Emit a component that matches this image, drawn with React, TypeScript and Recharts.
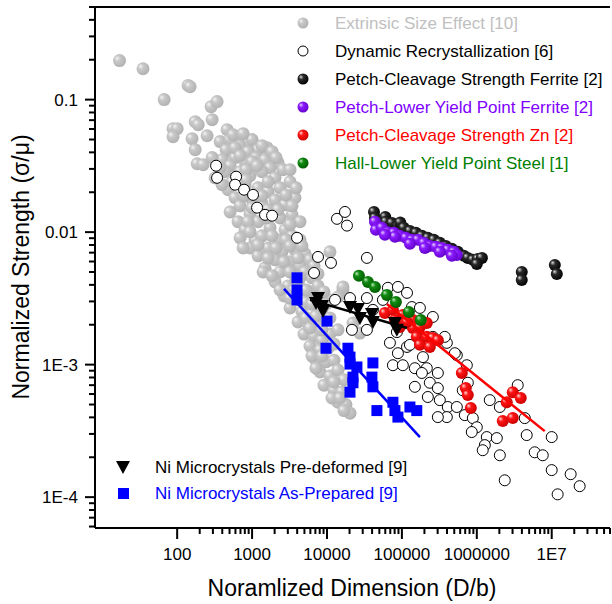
import React from 'react'
import { ScatterChart, Scatter, XAxis, YAxis } from 'recharts'

// [D/b, sigma/mu] pairs
const extrinsic = [
  [17, 0.197], [35, 0.171], [67, 0.1], [140, 0.128], [149, 0.125], [284, 0.0885], [341, 0.0966],
  [293, 0.0706], [174, 0.0682], [191, 0.0647], [88, 0.0604], [100, 0.0604], [88, 0.0525],
  [158, 0.0507], [251, 0.0534], [174, 0.0419], [464, 0.0593], [631, 0.0525], [185, 0.0328],
  [222, 0.0323], [857, 0.0457], [1585, 0.0434], [2223, 0.0334], [541, 0.0398],
  [374, 0.0482], [509, 0.0499], [692, 0.0449], [1000, 0.0499], [1202, 0.0419], [450, 0.0419], [885, 0.0405],
  [398, 0.0352], [593, 0.0365], [807, 0.034], [1130, 0.0365], [1490, 0.0352], [293, 0.0365], [509, 0.0317], [1738, 0.0306],
  [437, 0.0286], [692, 0.0286], [940, 0.0267], [1359, 0.0286], [2028, 0.0257], [2588, 0.0296], [321, 0.0257], [541, 0.024],
  [479, 0.0209], [807, 0.0224], [1202, 0.0216], [1633, 0.0202], [2361, 0.0216], [3213, 0.024], [593, 0.0182], [1000, 0.0175],
  [692, 0.0158], [1359, 0.0164], [2028, 0.0175], [2754, 0.0161], [3741, 0.0182], [509, 0.0142], [940, 0.0137], [1633, 0.0148],
  [650, 0.012], [1202, 0.012], [2361, 0.0128], [3415, 0.0135], [4365, 0.012], [807, 0.0104], [1738, 0.0108], [2754, 0.0104],
  [692, 0.00906], [1096, 0.00875], [1359, 0.00938], [2223, 0.00875], [3415, 0.00938], [4365, 0.00875], [940, 0.0076], [1633, 0.0076],
  [2512, 0.0071], [3741, 0.00735], [5093, 0.00686], [1202, 0.00662], [2028, 0.00618], [3213, 0.00597], [4365, 0.00556], [5929, 0.00618],
  [1490, 0.00537], [2361, 0.00501], [3741, 0.00468], [5093, 0.00501], [6310, 0.00452], [2028, 0.00421], [3020, 0.00393], [4365, 0.0038],
  [5929, 0.00354], [7586, 0.00393], [2673, 0.0033], [3863, 0.00308], [5248, 0.00297], [7586, 0.00308], [3213, 0.00268], [4642, 0.0025],
  [6310, 0.00241], [8570, 0.00259], [4102, 0.0021], [5585, 0.00203], [7586, 0.00196], [9705, 0.00217], [12020, 0.00308], [16330, 0.00366],
  [4933, 0.0017], [6714, 0.00164], [8570, 0.00153], [10960, 0.0017], [5929, 0.00138], [8072, 0.00129], [10300, 0.00133], [14030, 0.00183],
  [7129, 0.00108], [9705, 0.00105], [12390, 0.00108], [8072, 0.00088], [10960, 0.00082], [14030, 0.00091], [16870, 0.00077], [9120, 0.0007],
  [12390, 0.00064], [15850, 0.00062], [14030, 0.00052], [17910, 0.0005], [20280, 0.00043], [16870, 0.00045], [11660, 0.00056],
  [759, 0.0076], [1403, 0.00501], [10960, 0.0071], [16330, 0.00386], [14030, 0.00324], [27540, 0.00173], [22230, 0.00206],
  [558, 0.0543], [759, 0.0553], [593, 0.0434], [1359, 0.0449], [1849, 0.0405], [692, 0.0377], [1000, 0.034], [2089, 0.0365],
  [374, 0.0306], [832, 0.0296], [1166, 0.0317], [3213, 0.0296], [398, 0.0228], [832, 0.0248], [1633, 0.024], [3863, 0.0216],
  [1359, 0.0188], [2838, 0.0191], [782, 0.0188], [1000, 0.0153], [2223, 0.0148], [3415, 0.0158], [885, 0.012], [1538, 0.0128],
  [3213, 0.0114], [940, 0.01005], [1849, 0.00938], [2838, 0.00875], [1202, 0.00802], [2089, 0.0076], [3213, 0.00787], [4642, 0.00787],
  [1633, 0.00639], [2673, 0.00597], [4102, 0.00639], [6714, 0.00556], [1849, 0.00468], [3213, 0.00501], [4365, 0.00452], [7586, 0.00484],
  [2361, 0.00366], [3631, 0.00366], [5248, 0.00366], [9120, 0.00354], [3213, 0.00318], [6310, 0.00287], [9705, 0.00287],
  [5248, 0.00225], [7129, 0.00233], [10960, 0.00225], [5929, 0.00189], [8570, 0.00183], [12390, 0.00143],
  [6310, 0.00116], [8570, 0.00116], [7129, 0.00094], [12390, 0.00074], [14900, 0.00056],
]

const recrystallization = [
  [331, 0.0317], [341, 0.0257], [612, 0.0262], [593, 0.0228], [782, 0.0209], [1030, 0.0191], [1166, 0.0153],
  [1490, 0.0135], [1849, 0.0133], [3981, 0.00906],
  [13590, 0.0126], [17380, 0.0142], [18480, 0.0112], [7586, 0.0065], [11300, 0.00586], [6714, 0.00492], [34120, 0.00639],
  [12790, 0.00308], [20280, 0.00318], [34120, 0.00318], [41020, 0.00259], [55800, 0.00308], [65000, 0.0038],
  [88500, 0.00386], [117000, 0.00348], [136000, 0.00272], [174000, 0.00268], [259000, 0.00229],
  [21540, 0.00183], [34120, 0.00183], [69200, 0.00146], [88500, 0.00122], [117000, 0.00136], [75900, 0.00099],
  [103000, 0.00099], [149000, 0.00094], [191000, 0.00114], [215000, 0.00094], [236000, 0.00073], [185000, 0.000865],
  [302000, 0.000865], [302000, 0.000665], [149000, 0.00068], [222000, 0.00057], [321000, 0.00054], [410000, 0.000479],
  [398000, 0.000402], [302000, 0.000402], [541000, 0.000479], [541000, 0.00118], [736000, 0.00099], [650000, 0.00064],
  [759000, 0.00073], [692000, 0.000416], [885000, 0.000395], [1000000, 0.000337], [857000, 0.00031], [1360000, 0.000284],
  [1850000, 0.000279], [1280000, 0.000247], [1200000, 0.000226], [2030000, 0.000207], [1490000, 0.00054], [2030000, 0.000479],
  [3520000, 0.0007], [4370000, 0.000395], [4640000, 0.000294], [5930000, 0.000218], [7590000, 0.000207], [10000000, 0.000284],
  [10000000, 0.00016], [17900000, 0.000149], [23600000, 0.000121], [12000000, 0.000105], [2360000, 0.000134],
  [398000, 0.00146], [509000, 0.00122], [259000, 0.00162], [374000, 0.00162], [85700, 0.00176], [163000, 0.00183], [128000, 0.00141],
]

const cleavageFerrite = [
  [42400, 0.0142], [43700, 0.0128], [50900, 0.012], [60000, 0.013], [61200, 0.012], [73600, 0.0117], [88500, 0.0112],
  [95000, 0.0118], [106000, 0.0108], [128000, 0.0102], [154000, 0.00988], [185000, 0.00938], [222000, 0.00906],
  [267000, 0.00875], [321000, 0.0083], [386000, 0.00787], [464000, 0.00748], [558000, 0.0071], [671000, 0.00662],
  [759000, 0.00639], [885000, 0.00618], [1030000, 0.00628], [1170000, 0.00639], [1000000, 0.00575],
  [3980000, 0.00501], [3980000, 0.00436], [11000000, 0.00566], [11700000, 0.00484],
]

const yieldFerrite = [
  [43700, 0.012], [45000, 0.0104], [54100, 0.0108], [65000, 0.01], [78200, 0.00988], [94000, 0.00938],
  [113000, 0.00906], [136000, 0.00875], [163000, 0.00875], [196000, 0.0083], [236000, 0.00787], [284000, 0.00774],
  [341000, 0.0076], [410000, 0.00735], [493000, 0.0071], [541000, 0.00673], [464000, 0.00662], [321000, 0.0071],
  [203000, 0.0076], [128000, 0.00817], [80700, 0.00923], [59300, 0.00955],
]

const cleavageZn = [
  [59300, 0.00245], [75900, 0.00259], [103000, 0.00237], [140000, 0.00217], [94000, 0.00192], [140000, 0.00189],
  [174000, 0.00192], [215000, 0.00206], [158000, 0.00162], [215000, 0.00162], [259000, 0.00159], [302000, 0.00153],
  [174000, 0.00141], [236000, 0.00136], [117000, 0.0021], [80700, 0.00217], [631000, 0.000865], [713000, 0.000665],
  [759000, 0.000589], [832000, 0.00047], [3020000, 0.00062], [3860000, 0.00056], [2510000, 0.00052],
  [2220000, 0.000375], [3020000, 0.000395],
]

const hallSteel = [
  [26700, 0.00468], [35200, 0.00421], [43700, 0.00386], [63100, 0.00336], [83200, 0.00297], [124000, 0.0025], [179000, 0.00217],
]

const niPreDeformed = [
  [7586, 0.00318], [7129, 0.00292], [8570, 0.00277], [8850, 0.00254], [20280, 0.00272], [25900, 0.00263],
  [27540, 0.00225], [39800, 0.00241], [41020, 0.0021], [80700, 0.00206], [85700, 0.00183],
]

const niAsPrepared = [
  [3981, 0.00452], [3981, 0.00366], [3981, 0.00308], [10000, 0.00213], [9705, 0.00133], [19050, 0.00133],
  [20280, 0.00114], [20280, 0.00101], [25100, 0.00096], [41020, 0.00103], [39800, 0.000805], [41020, 0.00068],
  [22230, 0.000805], [22230, 0.00073], [20280, 0.00062], [46400, 0.00045], [75900, 0.00052], [80700, 0.00045],
  [88500, 0.000402], [128000, 0.000479], [158000, 0.00045],
]

// fitted lines (end points)
const fitAsPrepared = [[2670, 0.00373], [174000, 0.000284]]
const fitPreDeformed = [[5930, 0.00308], [117000, 0.00189]]
const fitZn = [[63000, 0.00287], [8070000, 0.000315]]

const xMajor = [100, 1000, 10000, 100000, 1000000, 10000000]
const xLabels = ['100', '1000', '10000', '100000', '1000000', '1E7']
const yMajor = [0.0001, 0.001, 0.01, 0.1]
const yLabels = ['1E-4', '1E-3', '0.01', '0.1']

const legendTop = [
  { name: 'Extrinsic Size Effect [10]', color: '#c0c0c0', marker: 'gGray' },
  { name: 'Dynamic Recrystallization [6]', color: '#000000', marker: 'open' },
  { name: 'Petch-Cleavage Strength Ferrite [2]', color: '#000000', marker: 'gBlack' },
  { name: 'Petch-Lower Yield Point Ferrite [2]', color: '#8000ff', marker: 'gPurple' },
  { name: 'Petch-Cleavage Strength Zn [2]', color: '#ff0000', marker: 'gRed' },
  { name: 'Hall-Lower Yield Point Steel [1]', color: '#008000', marker: 'gGreen' },
]

const X_DOMAIN = [8, 6e7]
const Y_DOMAIN = [5.85e-5, 0.5]

const xTicks: number[] = []
for (let d = 100; d <= 1e7; d *= 10) {
  for (let m = 1; m < 10; m++) {
    const v = Math.round(d * m)
    if (v <= X_DOMAIN[1]) xTicks.push(v)
  }
}
const yTicks: number[] = []
for (let e = -5; e <= -1; e++) {
  for (let m = 1; m < 10; m++) {
    const v = parseFloat((m * Math.pow(10, e)).toPrecision(3))
    if (v >= 6e-5 && v <= 0.5) yTicks.push(v)
  }
}

const pts = (arr: number[][]) => arr.map(([x, y]) => ({ x, y }))
const FONT = '"Liberation Sans", Arial, sans-serif'

const XTick = (props: any) => {
  const { x, y, payload } = props
  const i = xMajor.indexOf(payload.value)
  return (
    <g>
      <line x1={x} x2={x} y1={y} y2={y + (i >= 0 ? 11 : 6)} stroke="#000" strokeWidth={2} />
      {i >= 0 && (
        <text x={x} y={y + 32} textAnchor="middle" fontSize={17} fill="#000" fontFamily={FONT}>
          {xLabels[i]}
        </text>
      )}
    </g>
  )
}

const YTick = (props: any) => {
  const { x, y, payload } = props
  const i = yMajor.findIndex((v) => Math.abs(v - payload.value) < v * 1e-6)
  return (
    <g>
      <line x1={x} x2={x - (i >= 0 ? 10 : 6)} y1={y} y2={y} stroke="#000" strokeWidth={2} />
      {i >= 0 && (
        <text x={x - 17} y={y + 6} textAnchor="end" fontSize={17} fill="#000" fontFamily={FONT}>
          {yLabels[i]}
        </text>
      )}
    </g>
  )
}

const sphere = (id: string, r: number) => (p: any) => <circle cx={p.cx} cy={p.cy} r={r} fill={`url(#${id})`} />
const openCircle = (p: any) => <circle cx={p.cx} cy={p.cy} r={5.5} fill="#fff" stroke="#000" strokeWidth={1} />
const triangle = (p: any) => (
  <polygon points={`${p.cx - 7},${p.cy - 6} ${p.cx + 7},${p.cy - 6} ${p.cx},${p.cy + 7}`} fill="#000" />
)
const square = (p: any) => <rect x={p.cx - 5.5} y={p.cy - 5.5} width={11} height={11} fill="#0000ff" />
const noDot = () => <g />

const Grad = ({ id, c0, c1, c2 }: { id: string; c0: string; c1: string; c2: string }) => (
  <radialGradient id={id} cx="0.42" cy="0.42" r="0.62" fx="0.3" fy="0.3">
    <stop offset="0" stopColor={c0} />
    <stop offset="0.35" stopColor={c1} />
    <stop offset="1" stopColor={c2} />
  </radialGradient>
)

export default function App() {
  return (
    <div style={{ position: 'absolute', left: 0, top: 0, width: 612, height: 604, background: '#fff', fontFamily: FONT }}>
      <svg width={0} height={0} style={{ position: 'absolute' }}>
        <defs>
          <Grad id="gGray" c0="#f4f4f4" c1="#c8c8c8" c2="#b0b0b0" />
          <Grad id="gBlack" c0="#d8d8d8" c1="#2a2a2a" c2="#000000" />
          <Grad id="gPurple" c0="#e6ccff" c1="#8a1cff" c2="#6200c8" />
          <Grad id="gRed" c0="#ffd6d6" c1="#ff1414" c2="#c80000" />
          <Grad id="gGreen" c0="#b8e6b8" c1="#118a11" c2="#005a00" />
        </defs>
      </svg>
      <ScatterChart width={612} height={604} margin={{ top: 7, right: 2, bottom: 0, left: 0 }}>
        <XAxis
          type="number"
          dataKey="x"
          scale="log"
          domain={X_DOMAIN}
          allowDataOverflow
          ticks={xTicks}
          interval={0}
          tick={<XTick />}
          tickLine={false}
          tickSize={0}
          tickMargin={0}
          height={76}
          axisLine={{ stroke: '#000', strokeWidth: 2 }}
        />
        <YAxis
          type="number"
          dataKey="y"
          scale="log"
          domain={Y_DOMAIN}
          allowDataOverflow
          ticks={yTicks}
          interval={0}
          tick={<YTick />}
          tickLine={false}
          tickSize={0}
          tickMargin={0}
          width={95}
          axisLine={{ stroke: '#000', strokeWidth: 2 }}
        />
        <Scatter data={pts(extrinsic)} shape={sphere('gGray', 6.5)} isAnimationActive={false} />
        <Scatter data={pts(recrystallization)} shape={openCircle} isAnimationActive={false} />
        <Scatter data={pts(cleavageFerrite)} shape={sphere('gBlack', 6)} isAnimationActive={false} />
        <Scatter data={pts(yieldFerrite)} shape={sphere('gPurple', 6)} isAnimationActive={false} />
        <Scatter data={pts(cleavageZn)} shape={sphere('gRed', 6)} isAnimationActive={false} />
        <Scatter data={pts(hallSteel)} shape={sphere('gGreen', 6)} isAnimationActive={false} />
        <Scatter data={pts(niAsPrepared)} shape={square} isAnimationActive={false} />
        <Scatter data={pts(fitAsPrepared)} shape={noDot} line={{ stroke: '#0000ff', strokeWidth: 2.5 }} isAnimationActive={false} />
        <Scatter data={pts(niPreDeformed)} shape={triangle} isAnimationActive={false} />
        <Scatter data={pts(fitPreDeformed)} shape={noDot} line={{ stroke: '#000', strokeWidth: 2.5 }} isAnimationActive={false} />
        <Scatter data={pts(fitZn)} shape={noDot} line={{ stroke: '#ff0000', strokeWidth: 2.5 }} isAnimationActive={false} />
      </ScatterChart>
      <svg width={612} height={604} style={{ position: 'absolute', left: 0, top: 0, pointerEvents: 'none' }}>
        <line x1={94} x2={610} y1={7} y2={7} stroke="#000" strokeWidth={2} />
        {legendTop.map((l, i) => {
          const cy = 23 + i * 28
          return (
            <g key={l.name}>
              {l.marker === 'open' ? (
                <circle cx={303} cy={cy} r={5} fill="#fff" stroke="#000" strokeWidth={1} />
              ) : (
                <circle cx={303} cy={cy} r={5.5} fill={`url(#${l.marker})`} />
              )}
              <text x={335} y={cy + 6} fontSize={17} fill={l.color} fontFamily={FONT}>
                {l.name}
              </text>
            </g>
          )
        })}
        <polygon points="116,461 130,461 123,474" fill="#000" />
        <text x={155} y={473} fontSize={17} fill="#000" fontFamily={FONT}>Ni Microcrystals Pre-deformed [9]</text>
        <rect x={118} y={488} width={11} height={11} fill="#0000ff" />
        <text x={155} y={499} fontSize={17} fill="#0000ff" fontFamily={FONT}>Ni Microcrystals As-Prepared [9]</text>
        <text x={352} y={596} textAnchor="middle" fontSize={23} fill="#000" fontFamily={FONT}>
          Noramlized Dimension (D/b)
        </text>
        <text
          x={0}
          y={0}
          transform="translate(29,267) rotate(-90)"
          textAnchor="middle"
          fontSize={23}
          fill="#000"
          fontFamily={FONT}
        >
          Normalized Strength (σ/μ)
        </text>
      </svg>
    </div>
  )
}
